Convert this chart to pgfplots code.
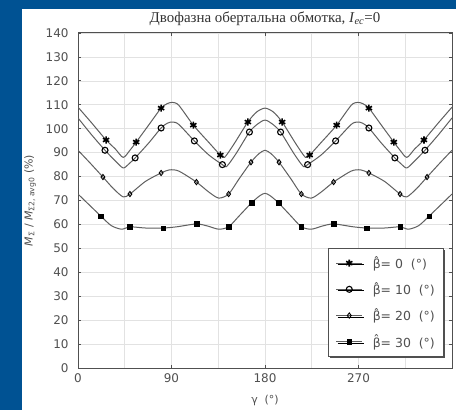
\documentclass[border=0pt]{standalone}
\usepackage{fontspec}
\setmainfont{DejaVu Sans}
\newfontfamily\titlefont{Liberation Serif}
\usepackage{pgfplots}
\pgfplotsset{compat=1.18}
\usetikzlibrary{shadows}
\definecolor{bgblue}{RGB}{0,82,147}
\definecolor{curve}{RGB}{95,95,95}
\definecolor{axgray}{RGB}{80,80,80}
\definecolor{gridgray}{RGB}{226,226,226}
\pgfplotsset{mlegend/.style={legend image code/.code={\draw[curve, line width=1bp] (0bp,0bp) -- (26bp,0bp); \draw[##1] plot coordinates {(13bp,0bp)};}}}
\begin{document}
\begin{tikzpicture}
\fill[bgblue] (0,0) rectangle (456bp,410bp);
\fill[white] (22bp,0) rectangle (456bp,401bp);
\begin{axis}[
 scale only axis, width=374bp, height=335bp,
 at={(78bp,42bp)}, anchor=south west,
 xmin=0, xmax=360, ymin=0, ymax=140,
 xtick={0,90,180,270,360}, xticklabels={0,90,180,270,{}},
 minor xtick={45,135,225,315},
 ytick={0,10,...,140},
 grid=both, major grid style={gridgray, line width=0.7bp}, minor grid style={gridgray, line width=0.7bp},
 tick align=inside, major tick length=3bp, minor tick length=0pt,
 tick style={axgray, line width=0.8bp},
 axis line style={axgray, line width=1bp},
 ticklabel style={font=\fontsize{12}{14}\selectfont, text=axgray},
 yticklabel style={xshift=-6bp},
 xticklabel style={yshift=-2bp},
 /pgf/number format/assume math mode=true,
 title={Двофазна обертальна обмотка, \textit{I}\textsubscript{\textit{ес}}=0},
 title style={at={(axis description cs:0.5,1)}, anchor=center, yshift=8bp, font=\titlefont\fontsize{15}{17}\selectfont, text=black!80},
 xlabel={γ\ \ (°)},
 xlabel style={at={(axis description cs:0.5,-0.0955)}, anchor=center, font=\fontsize{11}{13}\selectfont, text=axgray},
 ylabel={\textit{M}\textsubscript{Σ} / \textit{M}\textsubscript{Σ2, avg0} (\%)},
 ylabel style={at={(axis description cs:-0.128,0.5)}, anchor=center, font=\fontsize{11}{13}\selectfont, text=axgray},
 legend style={at={(axis description cs:0.979,0.033)}, anchor=south east, draw=axgray, line width=0.7bp, fill=white,
   font=\fontsize{12.5}{14}\selectfont, text=axgray, row sep=8.5bp, inner xsep=7bp, inner ysep=6bp,
   drop shadow={shadow xshift=1.5bp, shadow yshift=-1.5bp, fill=axgray, opacity=1}},
 legend cell align=left,
]
% beta = 0
\addplot[curve, line width=1bp, smooth, tension=0.45, forget plot] coordinates {
(0,109) (13,102.5) (27,95.3) (36,91.5) (43.5,88) (50,91) (56,94.4) (68,101.5) (80,108.6) (86,110.5) (91,111) (97,109.8) (111,101.5) (125,94.7) (137,89) (141,88) (150,93.5) (163.5,102.8) (172,107) (180,108.6) (188,107) (196.5,102.8) (210,93.5) (219,88) (223,89) (235,94.7) (249,101.5) (263,109.8) (269,111) (274,110.5) (280,108.6) (292,101.5) (304,94.4) (310,91) (316.5,88) (324,91.5) (333,95.3) (347,102.5) (360,109)};
\addplot[only marks, black, mark=asterisk, mark size=3.6bp, mark options={line width=1.6bp}, mlegend] coordinates {
(27,95.3) (56,94.4) (80,108.6) (111,101.5) (137,89) (163.5,102.8) (196.5,102.8) (223,89) (249,101.5) (280,108.6) (304,94.4) (333,95.3)};
\addlegendentry{\hspace{8bp}β̂= 0\ \ (°)}
% beta = 10
\addplot[curve, line width=1bp, smooth, tension=0.45, forget plot] coordinates {
(0,104.5) (13,97.5) (26,91) (36,86.5) (43.5,83.6) (49,85.3) (55,87.8) (68,94) (80,100.3) (86,102.3) (91,102.8) (97,101.8) (112,94.9) (126,89) (139,85) (143,84.2) (152,89.5) (165,98.6) (173,102) (180,103.6) (187,102) (195,98.6) (208,89.5) (217,84.2) (221,85) (234,89) (248,94.9) (263,101.8) (269,102.8) (274,102.3) (280,100.3) (292,94) (305,87.8) (311,85.3) (316.5,83.6) (324,86.5) (334,91) (347,97.5) (360,104.5)};
\addplot[only marks, black, mark=o, mark size=3bp, mark options={line width=1.1bp}, mlegend] coordinates {
(26,91) (55,87.8) (80,100.3) (112,94.9) (139,85) (165,98.6) (195,98.6) (221,85) (248,94.9) (280,100.3) (305,87.8) (334,91)};
\addlegendentry{\hspace{8bp}β̂= 10\ \ (°)}
% beta = 20
\addplot[curve, line width=1bp, smooth, tension=0.45, forget plot] coordinates {
(0,91) (12,85.5) (24,79.8) (34,75) (43.5,71.5) (50,72.7) (65,78) (80,81.5) (88,82.8) (97,82.3) (114,77.7) (126,73.5) (135.5,71) (145,72.7) (155,79) (166.5,86) (174,89.5) (180,91) (186,89.5) (193.5,86) (205,79) (215,72.7) (224.5,71) (234,73.5) (246,77.7) (263,82.3) (272,82.8) (280,81.5) (295,78) (310,72.7) (316.5,71.5) (326,75) (336,79.8) (348,85.5) (360,91)};
\addplot[only marks, black, mark=diamond, mark size=2.6bp, mark options={line width=0.9bp}, mlegend] coordinates {
(24,79.8) (50,72.7) (80,81.5) (114,77.7) (145,72.7) (166.5,86) (193.5,86) (215,72.7) (246,77.7) (280,81.5) (310,72.7) (336,79.8)};
\addlegendentry{\hspace{8bp}β̂= 20\ \ (°)}
% beta = 30
\addplot[curve, line width=1bp, smooth, tension=0.45, forget plot] coordinates {
(0,72.7) (10,68.5) (22,63.5) (32,59.5) (42,58) (50,59) (65,58.5) (82,58.5) (95,59) (114,60.2) (125,59.3) (135.5,58) (145,59) (155,63.5) (167,69) (175,72) (180,73) (185,72) (193,69) (205,63.5) (215,59) (224.5,58) (235,59.3) (246,60.2) (265,59) (278,58.5) (295,58.5) (310,59) (318,58) (328,59.5) (338,63.5) (350,68.5) (360,72.7)};
\addplot[only marks, black, mark=square*, mark size=2.3bp, mlegend] coordinates {
(22,63.5) (50,59) (82,58.5) (114,60.2) (145,59) (167,69) (193,69) (215,59) (246,60.2) (278,58.5) (310,59) (338,63.5)};
\addlegendentry{\hspace{8bp}β̂= 30\ \ (°)}
\end{axis}
\pgfresetboundingbox
\path (0,0) rectangle (456bp,410bp);
\end{tikzpicture}
\end{document}
